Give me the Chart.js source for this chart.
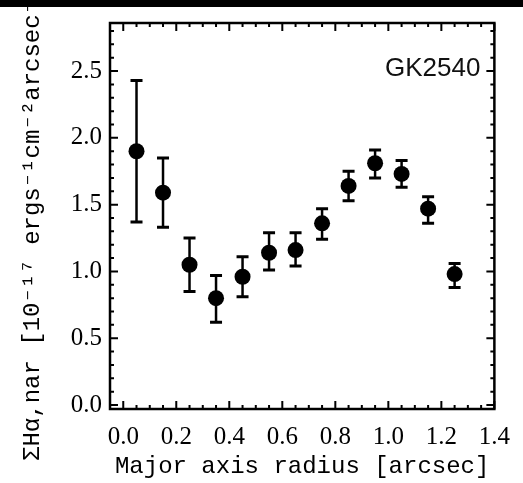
<!DOCTYPE html>
<html>
<head>
<meta charset="utf-8">
<script src="https://cdn.jsdelivr.net/npm/chart.js@4.4.1/dist/chart.umd.min.js"></script>
<style>
  html, body { margin: 0; padding: 0; background: #fff; }
  #wrap { position: relative; width: 523px; height: 483px; }
  #bar { position: absolute; left: 0; top: 0; width: 523px; height: 7px; background: #000; }
</style>
</head>
<body>
<div id="wrap">
  <canvas id="c" width="523" height="483"></canvas>
  <div id="bar"></div>
</div>
<script>
// radius bins [arcsec]
const radius = [0.05, 0.15, 0.25, 0.35, 0.45, 0.55, 0.65, 0.75, 0.85, 0.95, 1.05, 1.15, 1.25];
// surface brightness and error limits
const flux   = [1.90, 1.59, 1.05, 0.80, 0.96, 1.14, 1.16, 1.36, 1.64, 1.81, 1.73, 1.47, 0.98];
const fluxLo = [1.37, 1.33, 0.85, 0.62, 0.81, 1.01, 1.04, 1.24, 1.53, 1.70, 1.63, 1.36, 0.88];
const fluxHi = [2.43, 1.85, 1.25, 0.97, 1.11, 1.29, 1.29, 1.47, 1.75, 1.91, 1.83, 1.56, 1.06];
const xTicks = [0.0, 0.2, 0.4, 0.6, 0.8, 1.0, 1.2, 1.4];
const yTicks = [0.0, 0.5, 1.0, 1.5, 2.0, 2.5];
const label = "GK2540";

const serif = "'Liberation Serif', 'Times New Roman', serif";
const mono = "'Liberation Mono', 'DejaVu Sans Mono', monospace";

// error bars, inward ticks and frame, IDL style
const idlPlot = {
  id: "idlPlot",
  afterDatasetsDraw(chart) {
    const ctx = chart.ctx;
    const xs = chart.scales.x, ys = chart.scales.y;
    const a = chart.chartArea;
    ctx.save();
    ctx.strokeStyle = "#000";

    // error bars
    radius.forEach((r, i) => {
      const px = xs.getPixelForValue(r);
      const lo = ys.getPixelForValue(fluxLo[i]);
      const hi = ys.getPixelForValue(fluxHi[i]);
      ctx.lineWidth = 2.5;
      ctx.beginPath();
      ctx.moveTo(px, lo); ctx.lineTo(px, hi);
      ctx.stroke();
      ctx.lineWidth = 3;
      ctx.beginPath();
      ctx.moveTo(px - 6, lo); ctx.lineTo(px + 6, lo);
      ctx.moveTo(px - 6, hi); ctx.lineTo(px + 6, hi);
      ctx.stroke();
    });

    // minor / major ticks on all four sides
    ctx.lineWidth = 2;
    ctx.beginPath();
    for (let k = 0; k <= 28; k++) {
      const px = xs.getPixelForValue(k * 0.05);
      const len = (k % 4 === 0) ? 8 : 4;
      ctx.moveTo(px, a.bottom); ctx.lineTo(px, a.bottom - len);
      ctx.moveTo(px, a.top); ctx.lineTo(px, a.top + len);
    }
    for (let k = 0; k <= 28; k++) {
      const py = ys.getPixelForValue(k * 0.1);
      if (py < a.top) continue;
      const len = (k % 5 === 0) ? 8 : 4;
      ctx.moveTo(a.left, py); ctx.lineTo(a.left + len, py);
      ctx.moveTo(a.right, py); ctx.lineTo(a.right - len, py);
    }
    ctx.stroke();

    ctx.lineWidth = 2.5;
    ctx.strokeRect(a.left, a.top, a.right - a.left, a.bottom - a.top);

    ctx.fillStyle = "#111";
    ctx.font = "26px 'Liberation Sans', Arial, sans-serif";
    ctx.textAlign = "right";
    ctx.textBaseline = "middle";
    ctx.fillText(label, a.right - 14, a.top + 46);
    ctx.restore();
  }
};

new Chart(document.getElementById("c"), {
  type: "scatter",
  data: {
    datasets: [{
      data: radius.map((r, i) => ({ x: r, y: flux[i] })),
      pointRadius: 8,
      pointHoverRadius: 8,
      backgroundColor: "#000",
      borderColor: "#000",
      borderWidth: 0
    }]
  },
  options: {
    responsive: false,
    animation: false,
    events: [],
    layout: { padding: { top: 23, right: 24, left: 0, bottom: 0 } },
    plugins: { legend: { display: false }, tooltip: { enabled: false } },
    scales: {
      x: {
        type: "linear",
        min: -0.05,
        max: 1.4,
        afterBuildTicks: s => { s.ticks = xTicks.map(v => ({ value: v })); },
        afterFit: s => { s.height = 74; },
        grid: { display: false, drawTicks: false },
        border: { display: false },
        ticks: {
          color: "#000",
          padding: 13,
          maxRotation: 0,
          autoSkip: false,
          font: { family: serif, size: 25 },
          callback: v => Number(v).toFixed(1)
        },
        title: {
          display: true,
          text: "Major axis radius [arcsec]",
          color: "#000",
          font: { family: mono, size: 24 },
          padding: { top: 0, bottom: 2 }
        }
      },
      y: {
        type: "linear",
        min: -0.03,
        max: 2.86,
        afterBuildTicks: s => { s.ticks = yTicks.map(v => ({ value: v })); },
        afterFit: s => { s.width = 110; },
        grid: { display: false, drawTicks: false },
        border: { display: false },
        ticks: {
          color: "#000",
          padding: 8,
          autoSkip: false,
          font: { family: serif, size: 25 },
          callback: v => Number(v).toFixed(1)
        },
        title: {
          display: true,
          text: "\u03A3H\u03B1,nar [10\u207B\u00B9\u2077 ergs\u207B\u00B9cm\u207B\u00B2arcsec\u207B\u00B2]",
          color: "#000",
          font: { family: mono, size: 24 },
          padding: { top: 18, bottom: 0 }
        }
      }
    }
  },
  plugins: [idlPlot]
});
</script>
</body>
</html>
